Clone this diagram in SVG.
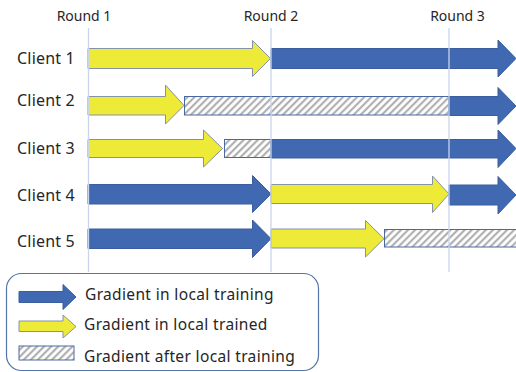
<svg xmlns="http://www.w3.org/2000/svg" width="516" height="372" viewBox="0 0 516 372">
<defs>
<pattern id="hatch" patternUnits="userSpaceOnUse" width="5" height="5" patternTransform="rotate(45)">
<rect width="5" height="5" fill="#ffffff"/>
<line x1="1.2" y1="0" x2="1.2" y2="5" stroke="#a9a9a9" stroke-width="2"/>
</pattern>
</defs>
<style>
.lbl{font-family:"Noto Sans","Open Sans","DejaVu Sans",sans-serif;fill:#262626}
.client{font-size:16px;letter-spacing:0.2px}
.round{font-size:14px;text-anchor:middle}
.leg{font-size:15.5px;letter-spacing:0.35px}
.blue{fill:#4169b1;stroke:#3a5e9e;stroke-width:1}
.yel{fill:#eeea38;stroke:#8593a8;stroke-width:1}
.hat{fill:url(#hatch);stroke:#4a68a0;stroke-width:1}
.grid{stroke:#c8d5ed;stroke-width:1.3;fill:none}
</style>
<rect width="516" height="372" fill="#ffffff"/>

<g id="round-labels">
<text class="lbl round" x="84" y="21">Round 1</text>
<text class="lbl round" x="271" y="21">Round 2</text>
<text class="lbl round" x="457.5" y="21">Round 3</text>
</g>

<g id="client1">
<text class="lbl client" x="17" y="64">Client 1</text>
<polygon class="yel" points="88,48.5 252.5,48.5 252.5,40.5 270.5,58.5 252.5,76.5 252.5,68.5 88,68.5"/>
<polygon class="blue" points="271,48.5 498,48.5 498,40 516,58.5 498,77 498,68.5 271,68.5"/>
</g>

<g id="client2">
<text class="lbl client" x="17" y="106">Client 2</text>
<polygon class="yel" points="88,96.5 165.5,96.5 165.5,85 184,105.5 165.5,124 165.5,115 88,115"/>
<rect class="hat" x="184.5" y="96.5" width="264.5" height="18.5"/>
<polygon class="blue" points="449,96.5 498,96.5 498,87.5 516,106 498,124.5 498,115.5 449,115.5"/>
</g>

<g id="client3">
<text class="lbl client" x="17" y="154">Client 3</text>
<polygon class="yel" points="88,139.5 203.5,139.5 203.5,130 222.5,148.5 203.5,167 203.5,157.5 88,157.5"/>
<rect class="hat" x="224.5" y="139.5" width="46.5" height="18"/>
<polygon class="blue" points="271,139.5 498,139.5 498,130 516,148.5 498,167.5 498,158 271,158"/>
</g>

<g id="client4">
<text class="lbl client" x="17" y="201">Client 4</text>
<polygon class="blue" points="88,184.5 252.5,184.5 252.5,175.5 271,194 252.5,212.5 252.5,204 88,204"/>
<polygon class="yel" points="271,184.5 432.5,184.5 432.5,176 449,194 432.5,212.5 432.5,203.5 271,203.5"/>
<polygon class="blue" points="449,185 498,185 498,176.5 516,195 498,214 498,205 449,205"/>
</g>

<g id="client5">
<text class="lbl client" x="17" y="247">Client 5</text>
<polygon class="blue" points="88,229 252.5,229 252.5,220 271,238.7 252.5,257.5 252.5,248.5 88,248.5"/>
<polygon class="yel" points="271,229 365.5,229 365.5,220.5 384,238.7 365.5,257 365.5,248 271,248"/>
<rect class="hat" x="384.5" y="229.5" width="133" height="17.5"/>
</g>

<g id="gridlines">
<line class="grid" x1="88.5" y1="28" x2="88.5" y2="272"/>
<line class="grid" x1="271" y1="28" x2="271" y2="272"/>
<line class="grid" x1="449" y1="28" x2="449" y2="272"/>
</g>

<g id="legend">
<rect x="6.5" y="273.5" width="312" height="97" rx="15" ry="15" fill="#ffffff" stroke="#5473a8" stroke-width="1.2"/>
<polygon class="blue" points="19,291.5 63,291.5 63,284.5 76,297 63,309.5 63,302.5 19,302.5"/>
<text class="lbl leg" x="85" y="299.5">Gradient in local training</text>
<polygon class="yel" points="19,321 63,321 63,315 76,326.5 63,338 63,331.5 19,331.5"/>
<text class="lbl leg" x="84" y="330">Gradient in local trained</text>
<rect class="hat" x="19" y="346" width="55" height="14"/>
<text class="lbl leg" x="84" y="361.5">Gradient after local training</text>
</g>
</svg>
